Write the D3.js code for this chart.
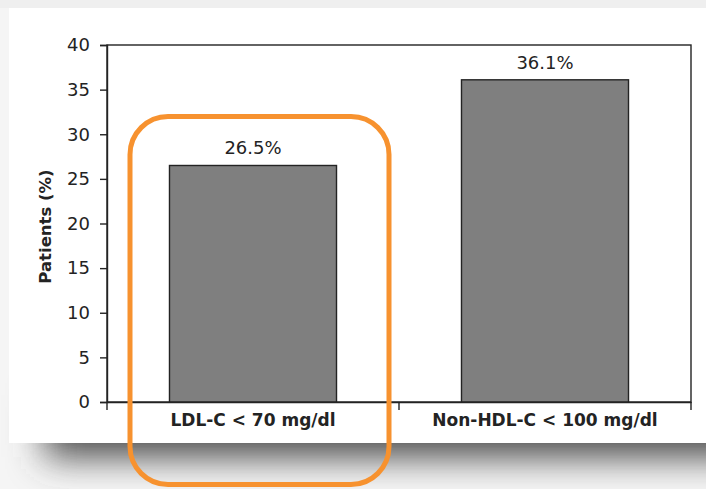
<!DOCTYPE html>
<html><head><meta charset="utf-8">
<script src="https://cdn.jsdelivr.net/npm/d3@7"></script>
<style>
html,body{margin:0;padding:0;background:#f3f3f3;}
svg{display:block;}
</style></head>
<body>
<svg id="chart" width="706" height="489"></svg>
<script>
const categories = ["LDL-C < 70 mg/dl", "Non-HDL-C < 100 mg/dl"];
const values = [26.5, 36.1];
const valueLabels = ["26.5%", "36.1%"];
const yTicks = [0, 5, 10, 15, 20, 25, 30, 35, 40];
const yTitle = "Patients (%)";
const highlighted = ["LDL-C < 70 mg/dl"];

const svg = d3.select("#chart");
const W = 706, H = 489;
const m = {left: 107, right: 15, top: 45, bottom: 87};
const pw = W - m.left - m.right, ph = H - m.top - m.bottom;
const FONT = "DejaVu Sans, sans-serif";
const INK = "#232323";

const defs = svg.append("defs");
const f = defs.append("filter").attr("id","blur").attr("x","-30%").attr("y","-150%").attr("width","160%").attr("height","400%");
f.append("feGaussianBlur").attr("stdDeviation", 18);

// background + card shadow
svg.append("rect").attr("width",W).attr("height",H).attr("fill","#f5f5f5");
svg.append("rect").attr("x",0).attr("y",0).attr("width",W).attr("height",8).attr("fill","#efefef");
svg.append("rect").attr("x",45).attr("y",395).attr("width",740).attr("height",62)
  .attr("fill","#4a4a4a").attr("filter","url(#blur)");
svg.append("rect").attr("x",9).attr("y",8).attr("width",W-9).attr("height",435).attr("fill","#fff");

const x = d3.scaleBand().domain(categories).range([m.left, m.left+pw]).paddingInner(0.428).paddingOuter(0.214);
const y = d3.scaleLinear().domain([0, 40]).range([m.top+ph, m.top]);

// frame
svg.append("rect").attr("x",m.left).attr("y",m.top).attr("width",pw).attr("height",ph)
  .attr("fill","none").attr("stroke",INK).attr("stroke-width",1.4);

// bars
svg.selectAll("rect.bar").data(categories).join("rect").attr("class","bar")
  .attr("x", d => x(d)).attr("width", x.bandwidth())
  .attr("y", (d,i) => y(values[i])).attr("height", (d,i) => y(0) - y(values[i]))
  .attr("fill","#7f7f7f").attr("stroke",INK).attr("stroke-width",1.4);

// value labels
svg.selectAll("text.val").data(categories).join("text").attr("class","val")
  .attr("x", d => x(d) + x.bandwidth()/2).attr("y", (d,i) => y(values[i]) - 11)
  .attr("text-anchor","middle").attr("font-family",FONT).attr("font-size",18).attr("fill",INK)
  .text((d,i) => valueLabels[i]);

// y axis
const ya = svg.append("g").attr("transform",`translate(${m.left},0)`)
  .call(d3.axisLeft(y).tickValues(yTicks).tickSize(7).tickPadding(10));
ya.select(".domain").attr("stroke",INK).attr("stroke-width",1.4);
ya.selectAll(".tick line").attr("stroke",INK).attr("stroke-width",1.4);
ya.selectAll(".tick text").attr("font-family",FONT).attr("font-size",18).attr("fill",INK);

// x axis labels
const xa = svg.append("g").attr("transform",`translate(0,${m.top+ph})`)
  .call(d3.axisBottom(x).tickSize(0).tickPadding(8));
xa.select(".domain").attr("stroke",INK).attr("stroke-width",1.4);
xa.selectAll(".tick text").attr("font-family",FONT).attr("font-size",17).attr("font-weight","bold").attr("fill",INK).attr("dy","0.95em");

// category boundary ticks
const bounds = [m.left].concat(categories.map(c => x(c) - x.step()*x.paddingInner()/2 + x.step()));
bounds[bounds.length-1] = m.left + pw;
svg.append("g").selectAll("line").data(bounds).join("line")
  .attr("x1", d => d).attr("x2", d => d).attr("y1", m.top+ph).attr("y2", m.top+ph+8)
  .attr("stroke",INK).attr("stroke-width",1.4);

// y title
svg.append("text").attr("transform",`translate(51,${(m.top + m.top+ph)/2 + 3}) rotate(-90)`)
  .attr("text-anchor","middle").attr("font-family",FONT).attr("font-size",16.5).attr("font-weight","bold").attr("fill",INK)
  .text(yTitle);

// highlight
highlighted.forEach(c => {
  const cx = x(c) + x.bandwidth()/2;
  svg.append("rect").attr("x", cx - 123).attr("y", 116.5).attr("width", 259).attr("height", 368)
    .attr("rx", 38).attr("fill","none").attr("stroke","#f7922f").attr("stroke-width",5);
});
</script>
</body></html>
